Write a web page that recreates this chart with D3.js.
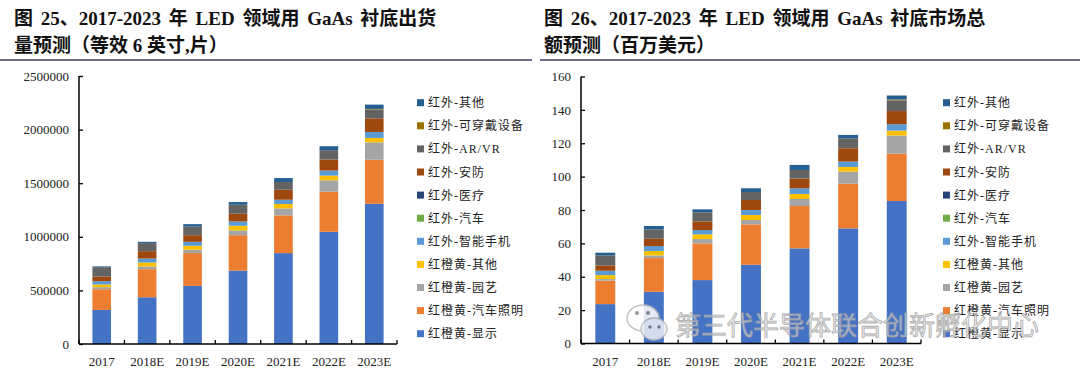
<!DOCTYPE html>
<html>
<head>
<meta charset="utf-8">
<script src="https://cdn.jsdelivr.net/npm/d3@7"></script>
<style>
  body { margin: 0; background: #fff; }
  svg { display: block; }
</style>
</head>
<body>
<div id="chart"></div>
<script>
// categories (years)
const years = ["2017", "2018E", "2019E", "2020E", "2021E", "2022E", "2023E"];

// series names, bottom of stack first
const seriesNames = ["红橙黄-显示", "红橙黄-汽车照明", "红橙黄-园艺", "红橙黄-其他", "红外-智能手机",
  "红外-汽车", "红外-医疗", "红外-安防", "红外-AR/VR", "红外-可穿戴设备", "红外-其他"];
const seriesColors = ["#4472C4", "#ED7D31", "#A5A5A5", "#FFC000", "#5B9BD5",
  "#70AD47", "#264478", "#9E480E", "#636363", "#997300", "#255E91"];

// fig 25 - shipments (6 inch equiv, pieces)
const shipDisplay  = [318000, 436000, 542000, 685000, 848000, 1047000, 1308000];
const shipAutoLight = [193000, 262000, 306000, 330000, 352000, 374000, 411000];
const shipHorti    = [19000, 25000, 31000, 44000, 65000, 106000, 162000];
const shipRyOther  = [25000, 37000, 37000, 44000, 41000, 44000, 41000];
const shipPhone    = [31000, 37000, 37000, 40000, 40000, 47000, 56000];
const shipIrAuto   = [0, 0, 0, 0, 0, 0, 0];
const shipMedical  = [0, 0, 0, 0, 0, 0, 0];
const shipSecurity = [44000, 69000, 62000, 72000, 93000, 103000, 126000];
const shipArvr     = [87000, 75000, 81000, 84000, 72000, 87000, 84000];
const shipWearable = [0, 0, 0, 0, 0, 0, 5000];
const shipIrOther  = [7000, 12000, 22000, 25000, 37000, 37000, 40000];

// fig 26 - market size (million USD)
const mktDisplay  = [23.6, 31, 38, 47.2, 57, 69, 85.4];
const mktAutoLight = [14, 20.2, 22, 24.2, 25.4, 26.8, 28.4];
const mktHorti    = [1.0, 1.6, 2.6, 2.6, 4.2, 7.2, 10.8];
const mktRyOther  = [2.4, 2.6, 2.8, 3, 3, 2.8, 3];
const mktPhone    = [2.6, 3, 2.6, 3, 3.4, 3.2, 3.8];
const mktIrAuto   = [0, 0, 0, 0, 0, 0, 0];
const mktMedical  = [0, 0, 0, 0, 0, 0, 0];
const mktSecurity = [3.2, 4.4, 5.2, 6, 5.8, 8, 7.9];
const mktArvr     = [6, 5.6, 5.4, 4.8, 5.2, 6, 6.4];
const mktWearable = [0, 0, 0, 0, 0, 0, 0.5];
const mktIrOther  = [1.6, 2, 1.8, 2.2, 3, 2, 2.4];

const shipTicks = [0, 500000, 1000000, 1500000, 2000000, 2500000];
const mktTicks = [0, 20, 40, 60, 80, 100, 120, 140, 160];

const width = 1080;
const height = 373;
const serif = "'Liberation Serif', 'Times New Roman', 'Noto Sans CJK SC', serif";

const svg = d3.select("#chart")
  .append("svg")
  .attr("width", width)
  .attr("height", height)
  .attr("viewBox", [0, 0, width, height]);

// builds rows for d3.stack from the arrays
function makeRows(cols) {
  return years.map((yr, i) => {
    const row = { year: yr };
    seriesNames.forEach((n, k) => { row[n] = cols[k][i]; });
    return row;
  });
}

const charts = [
  {
    title1: "图 25、2017-2023 年 LED 领域用 GaAs 衬底出货",
    title2: "量预测（等效 6 英寸,片）",
    titleX: 14, lineX: [0, 532],
    cols: [shipDisplay, shipAutoLight, shipHorti, shipRyOther, shipPhone, shipIrAuto,
      shipMedical, shipSecurity, shipArvr, shipWearable, shipIrOther],
    ticks: shipTicks, max: 2500000,
    xr: [79, 397], yr: [344, 76],
    legendX: 417
  },
  {
    title1: "图 26、2017-2023 年 LED 领域用 GaAs 衬底市场总",
    title2: "额预测（百万美元）",
    titleX: 544, lineX: [540, 1080],
    cols: [mktDisplay, mktAutoLight, mktHorti, mktRyOther, mktPhone, mktIrAuto,
      mktMedical, mktSecurity, mktArvr, mktWearable, mktIrOther],
    ticks: mktTicks, max: 160,
    xr: [581, 921], yr: [343.5, 76.5],
    legendX: 943
  }
];

charts.forEach(c => {
  // titles
  const t = svg.append("g")
    .attr("font-family", serif)
    .attr("font-weight", "bold")
    .attr("font-size", "19px")
    .attr("fill", "#111");
  t.append("text").attr("x", c.titleX).attr("y", 25).attr("word-spacing", "3px").text(c.title1);
  t.append("text").attr("x", c.titleX).attr("y", 52).text(c.title2);

  svg.append("line")
    .attr("x1", c.lineX[0]).attr("x2", c.lineX[1])
    .attr("y1", 60).attr("y2", 60)
    .attr("stroke", "#3b3b5c")
    .attr("stroke-width", 1.5);

  const x = d3.scaleBand()
    .domain(years)
    .range(c.xr)
    .paddingInner(0.59)
    .paddingOuter(0.295);
  const y = d3.scaleLinear()
    .domain([0, c.max])
    .range(c.yr);

  const stacked = d3.stack().keys(seriesNames)(makeRows(c.cols));

  svg.append("g")
    .selectAll("g")
    .data(stacked)
    .join("g")
    .attr("fill", (d, i) => seriesColors[i])
    .selectAll("rect")
    .data(d => d)
    .join("rect")
    .attr("x", d => x(d.data.year))
    .attr("y", d => y(d[1]))
    .attr("height", d => y(d[0]) - y(d[1]))
    .attr("width", x.bandwidth());

  // y axis, ticks inside
  const yAxis = svg.append("g")
    .attr("transform", `translate(${c.xr[0]},0)`)
    .call(d3.axisRight(y).tickValues(c.ticks).tickSize(4).tickFormat(d3.format("d")));
  yAxis.select(".domain").attr("stroke", "#000").attr("stroke-width", 1.5)
    .attr("d", `M0,${c.yr[0]}V${c.yr[1]}`);
  yAxis.selectAll(".tick line").attr("stroke", "#000").attr("stroke-width", 1.3);
  yAxis.selectAll(".tick text")
    .attr("x", -10)
    .attr("text-anchor", "end")
    .attr("font-family", serif)
    .attr("font-size", "13px")
    .attr("fill", "#222");

  // x axis, line plus boundary ticks pointing up
  const step = x.step();
  const xAxis = svg.append("g");
  xAxis.append("line")
    .attr("x1", c.xr[0]).attr("x2", c.xr[1])
    .attr("y1", c.yr[0]).attr("y2", c.yr[0])
    .attr("stroke", "#000").attr("stroke-width", 1.5);
  xAxis.selectAll(".bt")
    .data(d3.range(years.length + 1))
    .join("line")
    .attr("x1", i => c.xr[0] + i * step)
    .attr("x2", i => c.xr[0] + i * step)
    .attr("y1", c.yr[0]).attr("y2", c.yr[0] - 4)
    .attr("stroke", "#000").attr("stroke-width", 1.3);
  xAxis.selectAll("text")
    .data(years)
    .join("text")
    .attr("x", d => x(d) + x.bandwidth() / 2)
    .attr("y", 366)
    .attr("text-anchor", "middle")
    .attr("font-family", serif)
    .attr("font-size", "13px")
    .attr("fill", "#222")
    .text(d => d);

  // legend, top item is the last series
  const legendItems = seriesNames.map((n, i) => ({ name: n, color: seriesColors[i] })).reverse();
  const lg = svg.append("g")
    .selectAll("g")
    .data(legendItems)
    .join("g")
    .attr("transform", (d, i) => `translate(${c.legendX},${102.7 + i * 23.1})`);
  lg.append("rect")
    .attr("x", 0).attr("y", -3.5)
    .attr("width", 7).attr("height", 7)
    .attr("fill", d => d.color);
  lg.append("text")
    .attr("x", 11)
    .attr("y", 4.5)
    .attr("font-family", serif)
    .attr("font-size", "12px")
    .attr("letter-spacing", "1px")
    .attr("fill", "#222")
    .text(d => d.name);
});

// watermark (sits over the right legend like in the source)
const wm = svg.append("g").attr("opacity", 0.85);
wm.append("ellipse").attr("cx", 643).attr("cy", 318).attr("rx", 16).attr("ry", 13)
  .attr("fill", "#fff").attr("stroke", "#bbb").attr("stroke-width", 1.5);
wm.append("ellipse").attr("cx", 654).attr("cy", 329).attr("rx", 13).attr("ry", 11)
  .attr("fill", "#eef0f7").attr("stroke", "#bbb").attr("stroke-width", 1.5);
wm.append("circle").attr("cx", 637).attr("cy", 313).attr("r", 2).attr("fill", "#888");
wm.append("circle").attr("cx", 648).attr("cy", 313).attr("r", 2).attr("fill", "#888");
wm.append("circle").attr("cx", 650).attr("cy", 327).attr("r", 1.7).attr("fill", "#777");
wm.append("circle").attr("cx", 659).attr("cy", 327).attr("r", 1.7).attr("fill", "#777");
wm.append("text")
  .attr("x", 675).attr("y", 335)
  .attr("font-family", "'Noto Sans CJK SC', sans-serif")
  .attr("font-size", "26px")
  .attr("fill", "#e4e4e4")
  .attr("fill-opacity", 0.75)
  .attr("stroke", "#a0a0a0")
  .attr("stroke-width", 0.8)
  .text("第三代半导体联合创新孵化中心");
</script>
</body>
</html>
